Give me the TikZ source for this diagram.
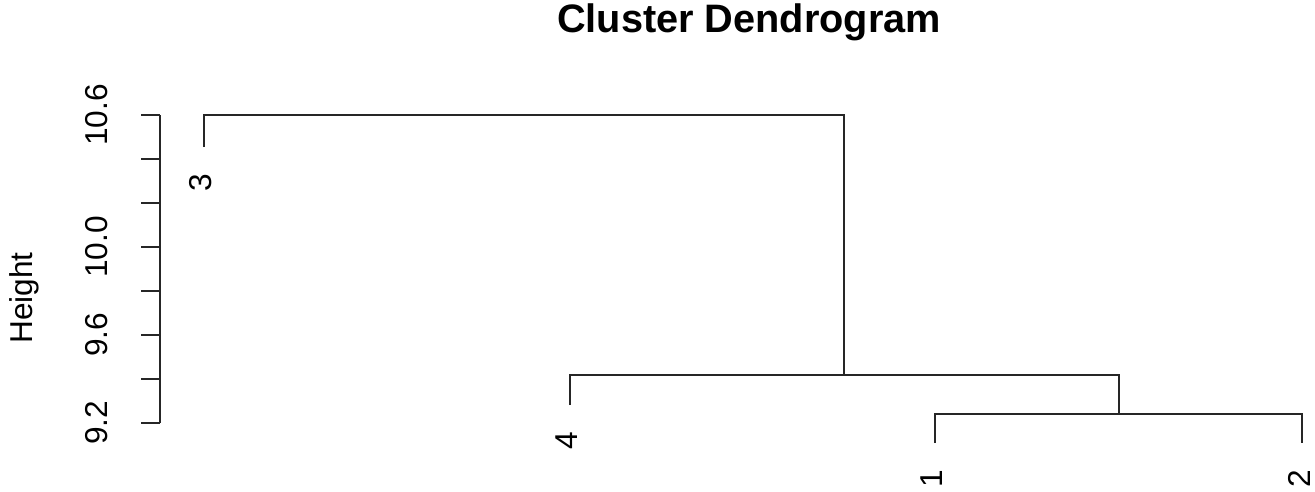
\documentclass[tikz,border=0pt]{standalone}
\usepackage{fontspec}
\setmainfont{Liberation Sans}
\usetikzlibrary{calc}

\begin{document}
\begin{tikzpicture}[x=0.02cm, y=-0.02cm, line width=1.3pt,
    branch/.style={draw=black!85},
    ticklab/.style={rotate=90, font=\fontsize{18}{20}\selectfont},
    leaflab/.style={rotate=90, anchor=east, inner sep=0pt, font=\fontsize{18}{20}\selectfont}]
    \useasboundingbox (0,0) rectangle (1315,491);

    % title and axis
    \node[font=\fontsize{22.6}{24}\selectfont\bfseries] (title) at (749,22) {Cluster Dendrogram};
    \node[ticklab] (ylab) at (24,298) {Height};
    \coordinate (atop) at (160,115);
    \coordinate (abot) at (160,423);
    \draw[branch] (atop) -- (abot);
    \foreach \y in {115,159,...,423}
      \draw[branch] (160,\y) -- (141,\y);
    \node[ticklab] (t106) at (97,115) {10.6};
    \node[ticklab] (t100) at (97,247) {10.0};
    \node[ticklab] (t96) at (97,335) {9.6};
    \node[ticklab] (t92) at (97,423) {9.2};

    % leaves
    \coordinate (e3) at (204,147);
    \coordinate (e4) at (570,405);
    \coordinate (e1) at (935,443);
    \coordinate (e2) at (1302,443);
    \node[leaflab] (n3) at ($(e3)+(-3,26)$) {3};
    \node[leaflab] (n4) at ($(e4)+(-3,26)$) {4};
    \node[leaflab] (n1) at ($(e1)+(-3,26)$) {1};
    \node[leaflab] (n2) at ($(e2)+(-3,26)$) {2};

    % merges
    \coordinate (m12) at (1119,414);
    \coordinate (m412) at (844,375);
    \coordinate (m3412) at (524,115);

    \draw[branch] (e1) |- (m12) -| (e2);
    \draw[branch] (e4) |- (m412) -| (m12);
    \draw[branch] (e3) |- (m3412) -| (m412);
\end{tikzpicture}
\end{document}
